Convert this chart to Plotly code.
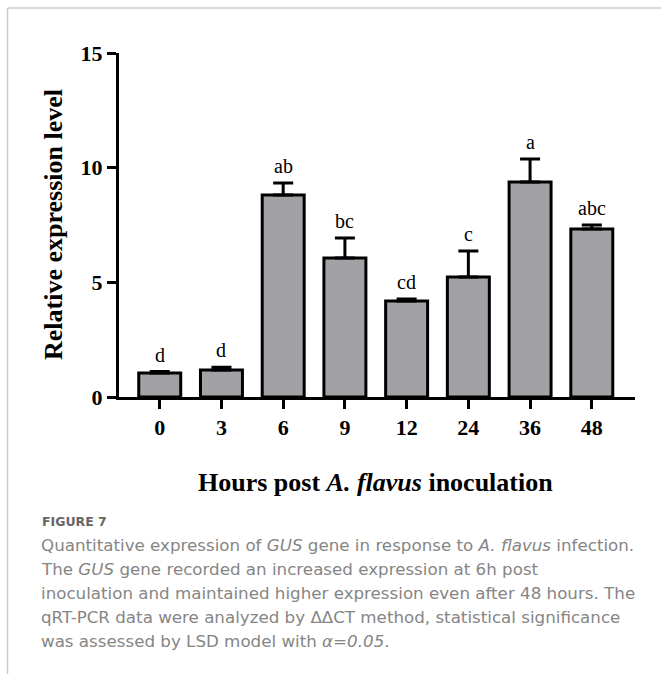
import plotly.graph_objects as go

hours = ["0", "3", "6", "9", "12", "24", "36", "48"]
expression = [1.05, 1.18, 8.81, 6.06, 4.19, 5.23, 9.38, 7.33]
error_up = [0.06, 0.12, 0.52, 0.87, 0.08, 1.14, 1.0, 0.17]
letters = ["d", "d", "ab", "bc", "cd", "c", "a", "abc"]
y_ticks = [0, 5, 10, 15]

caption_head = "FIGURE 7"
caption_lines = [
    "Quantitative expression of <i>GUS</i> gene in response to <i>A. flavus</i> infection.",
    "The <i>GUS</i> gene recorded an increased expression at 6h post",
    "inoculation and maintained higher expression even after 48 hours. The",
    "qRT-PCR data were analyzed by \u0394\u0394CT method, statistical significance",
    "was assessed by LSD model with <i>\u03b1=0.05</i>.",
]

serif = "Liberation Serif, Times New Roman, serif"
sans = "DejaVu Sans, Open Sans, sans-serif"

W, H = 661, 674
ml, mr, mt, mb = 119, 26, 53, 277
pw, ph = W - ml - mr, H - mt - mb

fig = go.Figure()
fig.add_trace(go.Bar(
    x=hours, y=expression, width=0.68,
    marker=dict(color="#a2a2a6", line=dict(color="black", width=3)),
    error_y=dict(type="data", array=error_up, arrayminus=[0] * len(error_up),
                 symmetric=False, color="black", thickness=3, width=10),
    showlegend=False, hoverinfo="skip",
))

fig.update_layout(
    width=W, height=H,
    margin=dict(l=ml, r=mr, t=mt, b=mb, pad=0),
    plot_bgcolor="white", paper_bgcolor="white",
    xaxis=dict(
        type="category", range=[-0.66, 7.7],
        showline=True, linecolor="black", linewidth=3,
        ticks="outside", ticklen=9, tickwidth=3, tickcolor="black",
        tickfont=dict(family=serif, size=22, color="black", weight="bold"),
        showgrid=False, zeroline=False,
    ),
    yaxis=dict(
        range=[0, 15], tickvals=y_ticks,
        showline=True, linecolor="black", linewidth=3,
        ticks="outside", ticklen=9, tickwidth=3, tickcolor="black",
        tickfont=dict(family=serif, size=22, color="black", weight="bold"),
        showgrid=False, zeroline=False,
    ),
)

ann = []
for i, (v, e, t) in enumerate(zip(expression, error_up, letters)):
    ann.append(dict(
        x=i, y=v + e, xref="x", yref="y", text=t, showarrow=False,
        yanchor="bottom", xanchor="center", yshift=4,
        font=dict(family=serif, size=20, color="black"),
    ))
ann.append(dict(
    xref="paper", yref="paper", x=0, y=0.5, xshift=-66,
    text="Relative expression level", textangle=-90, showarrow=False,
    font=dict(family=serif, size=26, color="black", weight="bold"),
    xanchor="center", yanchor="middle",
))
ann.append(dict(
    xref="paper", yref="paper", x=(375 - ml) / pw, y=0, yshift=-85,
    text="Hours post <i>A. flavus</i> inoculation", showarrow=False,
    font=dict(family=serif, size=26, color="black", weight="bold"),
    xanchor="center", yanchor="middle",
))
ann.append(dict(
    xref="paper", yref="paper", x=(40 - ml) / pw, y=(mt + ph - 521) / ph,
    text=caption_head, showarrow=False,
    font=dict(family=sans, size=12.5, color="#666666", weight=600),
    xanchor="left", yanchor="middle",
))
for i, line in enumerate(caption_lines):
    ypix = 545 + i * 24
    ann.append(dict(
        xref="paper", yref="paper", x=(39 - ml) / pw, y=(mt + ph - ypix) / ph,
        text=line, showarrow=False,
        font=dict(family=sans, size=16.7, color="#858585"),
        xanchor="left", yanchor="middle",
    ))
fig.update_layout(annotations=ann)

def px_x(p):
    return (p - ml) / pw

def px_y(p):
    return (mt + ph - p) / ph

fig.add_shape(type="line", xref="paper", yref="paper",
              x0=px_x(7.5), x1=px_x(W + 5), y0=px_y(8), y1=px_y(8),
              line=dict(color="#cccccc", width=1.5))
fig.add_shape(type="line", xref="paper", yref="paper",
              x0=px_x(7.5), x1=px_x(7.5), y0=px_y(8), y1=px_y(H + 5),
              line=dict(color="#cccccc", width=1.5))

fig.write_html("out.html", config={"displayModeBar": False},
               post_script="document.body.style.margin='0';")
